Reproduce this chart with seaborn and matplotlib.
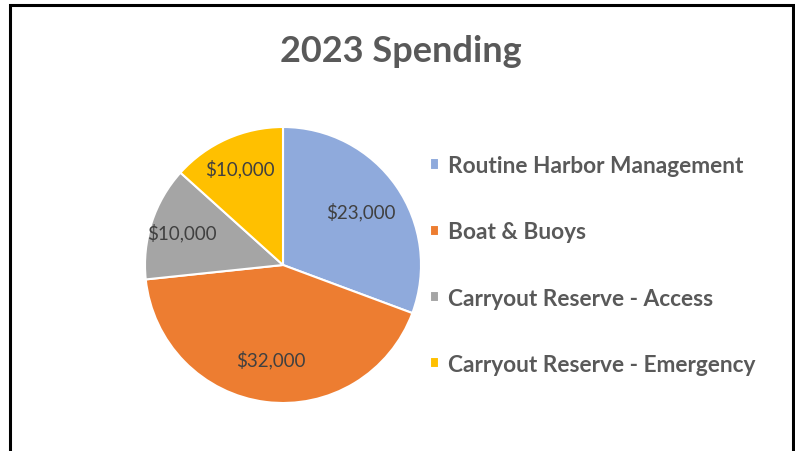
import matplotlib
matplotlib.use('Agg')
import matplotlib.pyplot as plt
from matplotlib.patches import Rectangle
import numpy as np
import seaborn as sns

categories = ['Routine Harbor Management', 'Boat & Buoys',
              'Carryout Reserve - Access', 'Carryout Reserve - Emergency']
spending = [23000, 32000, 10000, 10000]
labels = ['$23,000', '$32,000', '$10,000', '$10,000']
title = '2023 Spending'

sns.set_theme(style='white')
plt.rcParams['font.family'] = ['Lato', 'DejaVu Sans']
colors = sns.color_palette(['#8faadc', '#ed7d31', '#a5a5a5', '#ffc000'])

fig = plt.figure(figsize=(7.95, 4.52), dpi=100)
W, H = 795, 452

# pie area: centre ~ (283, 266), radius ~ 138 px
ax = fig.add_axes([(283 - 140) / W, 1 - (266 + 140) / H, 280 / W, 280 / H])
wedges, texts = ax.pie(spending, colors=colors, startangle=90, counterclock=False,
                       radius=138 / 140,
                       wedgeprops=dict(edgecolor='white', linewidth=1.5))
ax.set_xlim(-1, 1)
ax.set_ylim(-1, 1)
ax.set_aspect('equal')
ax.axis('off')

# data labels, placed along each wedge's bisector
for w, lab in zip(wedges, labels):
    ang = np.deg2rad((w.theta1 + w.theta2) / 2)
    frac = (w.theta2 - w.theta1) / 360
    d = 0.68 if frac > 0.2 else 0.76
    ax.text(d * np.cos(ang), d * np.sin(ang), lab, ha='center', va='center',
            fontsize=13.5, color='#404040')

fig.text(0.504, 1 - 52 / H, title, ha='center', va='center', fontsize=26,
         fontweight='bold', color='#595959')

leg = fig.legend(wedges, categories, loc='center left',
                 bbox_to_anchor=(410 / W, 1 - 266 / H), frameon=False,
                 prop=dict(size=16.3, weight='bold'), labelspacing=2.0,
                 handlelength=0.38, handleheight=0.38, handletextpad=0.42,
                 labelcolor='#595959')

# outer frame (bottom edge falls outside the image)
fig.patches.append(Rectangle((10 / W, -0.1), (793 - 10) / W, 1.1 - 6 / H,
                             transform=fig.transFigure, fill=False,
                             edgecolor='black', linewidth=2.2))

plt.savefig('out.png', dpi=100)
